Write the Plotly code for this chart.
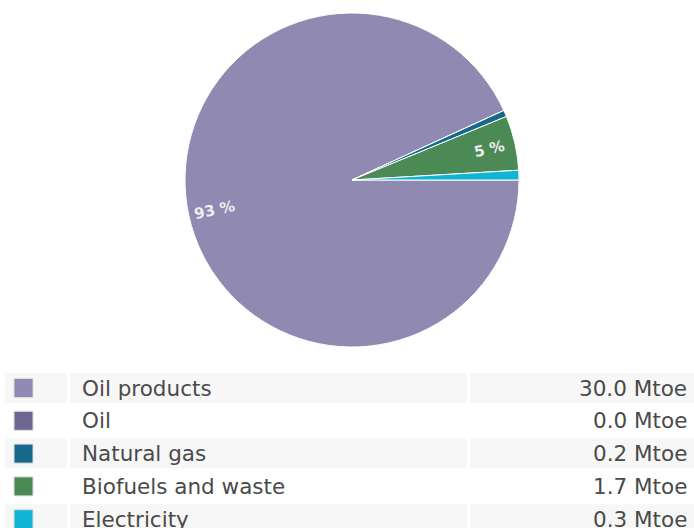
import math
import plotly.graph_objects as go

# Final energy consumption by source (Mtoe)
sources = ["Oil products", "Oil", "Natural gas", "Biofuels and waste", "Electricity"]
values = [30.0, 0.0, 0.2, 1.7, 0.3]
colors = ["#9089b1", "#6f6793", "#17698c", "#4b8a55", "#12b4d3"]

W, H = 694, 528
CX, CY, R = 352, 180, 167          # pie centre and radius in pixels
ROTATION = 90                      # first slice starts at 3 o'clock, running clockwise


def px(x):
    return x / W


def py(y):
    return 1 - y / H


fig = go.Figure()

fig.add_trace(go.Pie(
    labels=sources,
    values=values,
    marker=dict(colors=colors, line=dict(color="white", width=1)),
    sort=False,
    direction="clockwise",
    rotation=ROTATION,
    textinfo="none",
    hoverinfo="label+value+percent",
    showlegend=False,
    domain=dict(x=[px(CX - R), px(CX + R)], y=[py(CY + R), py(CY - R)]),
))

# Percentage labels on the larger slices, placed radially at the slice mid-angle
total = sum(values)
start = ROTATION  # degrees clockwise from 12 o'clock
for name, val in zip(sources, values):
    frac = val / total
    sweep = frac * 360
    mid_cw = start + sweep / 2
    start += sweep
    pct = round(frac * 100)
    if pct < 5:
        continue
    mid = 90 - mid_cw               # standard angle, counterclockwise from 3 o'clock
    rad = math.radians(mid)
    lx = CX + 141 * math.cos(rad)
    ly = CY - 141 * math.sin(rad)
    ang = -(((mid + 90) % 180) - 90)
    fig.add_annotation(
        x=px(lx), y=py(ly), xref="paper", yref="paper",
        xanchor="center", yanchor="middle",
        text=f"<b>{pct} %</b>", showarrow=False, textangle=ang,
        font=dict(family="DejaVu Sans", size=15, color="#eeeeee"),
    )

# Legend table below the pie
ROW0, ROW_H, ROW_GAP = 373, 30, 2.8
cols = [(5, 67), (70, 467), (470, 694)]
FONT = dict(family="DejaVu Sans", size=21.5, color="#4a4a4a")
for k, (name, val, col) in enumerate(zip(sources, values, colors)):
    top = ROW0 + k * (ROW_H + ROW_GAP)
    mid = top + ROW_H / 2
    if k % 2 == 0:
        for x0, x1 in cols:
            fig.add_shape(type="rect", xref="paper", yref="paper",
                          x0=px(x0), x1=px(x1), y0=py(top), y1=py(top + ROW_H),
                          fillcolor="#f7f7f7", line=dict(width=0), layer="below")
    fig.add_shape(type="rect", xref="paper", yref="paper",
                  x0=px(14), x1=px(33), y0=py(mid - 9.5), y1=py(mid + 9.5),
                  fillcolor=col, line=dict(color="#dddddd", width=1))
    fig.add_annotation(x=px(80), y=py(mid), xref="paper", yref="paper",
                       text=name, showarrow=False, xanchor="left", yanchor="middle",
                       font=FONT)
    fig.add_annotation(x=px(689), y=py(mid), xref="paper", yref="paper",
                       text=f"{val:.1f} Mtoe", showarrow=False, xanchor="right", yanchor="middle",
                       font=FONT)

fig.update_layout(
    width=W, height=H,
    margin=dict(l=0, r=0, t=0, b=0),
    paper_bgcolor="white", plot_bgcolor="white",
)

fig.write_html("out.html")
